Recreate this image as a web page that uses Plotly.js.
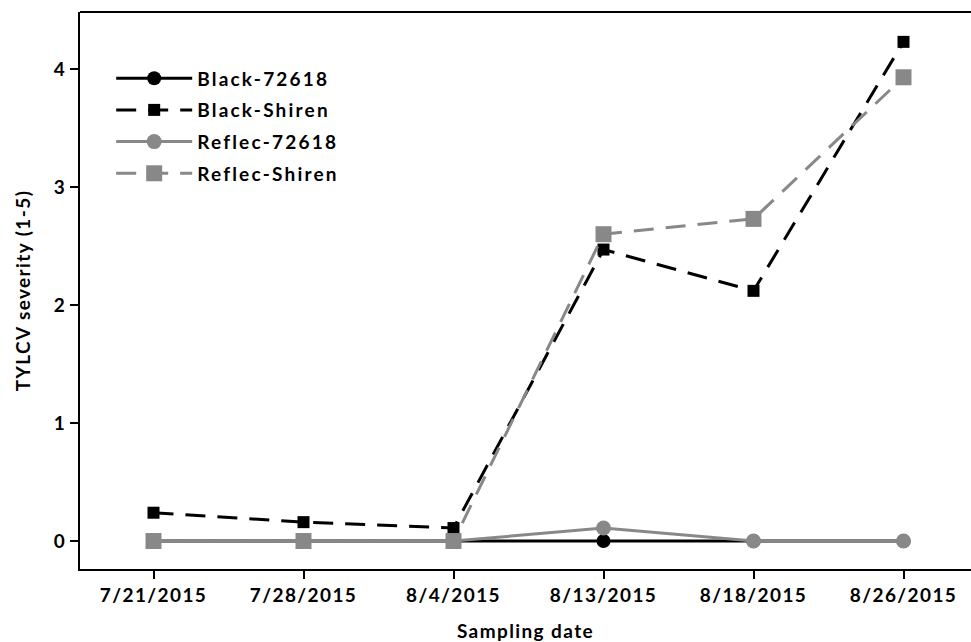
<!DOCTYPE html>
<html>
<head>
<meta charset="utf-8">
<script src="https://cdn.plot.ly/plotly-3.0.1.min.js"></script>
<style>
html,body{margin:0;padding:0;background:#fff;}
#chart{width:971px;height:642px;}
#chart svg text{letter-spacing:1.4px;}
#chart .legend text{letter-spacing:2.2px;}
#chart .legend .scrollbox{clip-path:none !important;}
</style>
</head>
<body>
<div id="chart"></div>
<script>
const dates = ["7/21/2015", "7/28/2015", "8/4/2015", "8/13/2015", "8/18/2015", "8/26/2015"];
const black72618 = [0, 0, 0, 0, 0, 0];
const blackShiren = [0.24, 0.16, 0.11, 2.47, 2.12, 4.23];
const reflec72618 = [0, 0, 0, 0.11, 0, 0];
const reflecShiren = [0, 0, 0, 2.60, 2.73, 3.93];

const grey = "#888888";
const traces = [
  {x: dates, y: black72618, name: "Black-72618", legendgroup: "a", mode: "lines+markers",
   line: {color: "#000", width: 3}, marker: {symbol: "circle", size: 14, color: "#000"}},
  {x: dates, y: blackShiren, name: "Black-Shiren", legendgroup: "b", mode: "lines+markers",
   line: {color: "#000", width: 3, dash: "20px,12px"}, marker: {symbol: "square", size: 12, color: "#000"}},
  {x: dates, y: reflec72618, name: "Reflec-72618", legendgroup: "c", mode: "lines+markers",
   line: {color: grey, width: 3}, marker: {symbol: "circle", size: 15, color: grey}},
  {x: dates, y: reflecShiren, name: "Reflec-Shiren", legendgroup: "d", mode: "lines+markers",
   line: {color: grey, width: 3, dash: "20px,12px"}, marker: {symbol: "square", size: 16, color: grey}}
];

const fnt = {family: "Lato, 'Open Sans', sans-serif", size: 19, color: "#000", weight: "bold"};
const layout = {
  width: 971, height: 642,
  margin: {l: 80, r: 0, t: 12, b: 73},
  paper_bgcolor: "#fff", plot_bgcolor: "#fff",
  font: fnt,
  showlegend: true,
  legend: {x: 0.035, y: 0.915, xanchor: "left", yanchor: "top", bgcolor: "rgba(0,0,0,0)",
           font: fnt, itemwidth: 76, traceorder: "grouped", tracegroupgap: 4},
  xaxis: {type: "category", range: [-0.49, 5.45], showgrid: false, zeroline: false,
          showline: true, linecolor: "#000", linewidth: 2,
          ticks: "outside", ticklen: 8, tickwidth: 2, tickcolor: "#000",
          tickfont: fnt,
          title: {text: "Sampling date", font: fnt, standoff: 22}},
  yaxis: {range: [-0.237, 4.483], showgrid: false, zeroline: false,
          showline: true, linecolor: "#000", linewidth: 2,
          ticks: "outside", ticklen: 8, tickwidth: 2, tickcolor: "#000",
          tickvals: [0, 1, 2, 3, 4], tickfont: fnt,
          title: {text: "TYLCV severity (1-5)", font: fnt, standoff: 20}},
  shapes: [{type: "line", xref: "paper", yref: "paper", x0: 0, x1: 1, y0: 1, y1: 1,
            line: {color: "#000", width: 2}}]
};
Plotly.newPlot("chart", traces, layout, {displayModeBar: false, staticPlot: true});
</script>
</body>
</html>
